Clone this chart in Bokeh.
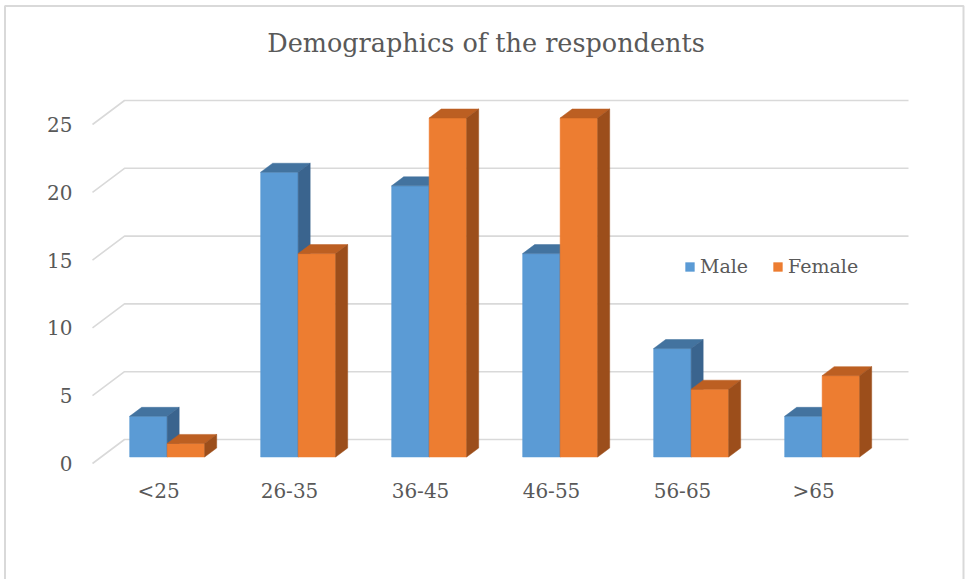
from bokeh.plotting import figure
from bokeh.models import Range1d, Legend, LegendItem
from bokeh.core.properties import value
from bokeh.embed import file_html
from bokeh.resources import INLINE

# ---- data ----
categories = ["<25", "26-35", "36-45", "46-55", "56-65", ">65"]
male = [3, 21, 20, 15, 8, 3]
female = [1, 15, 25, 25, 5, 6]
y_ticks = [0, 5, 10, 15, 20, 25]
title_text = "Demographics of the respondents"

# ---- style / projection constants ----
W, H = 965, 579
CAT_PX = 131.0          # pixels per category
X0_PX = 158.0           # pixel of first category label (floor front)
Y0_PX = 463.0           # pixel of value 0 on floor front
V_PX = 13.56            # pixels per unit
DX = 32.0 / CAT_PX      # full floor depth, x data units
DY = 24.0 / V_PX        # full floor depth, y data units
Z0, Z1 = 0.27, 0.646    # bar depth range (fraction of floor depth)
BW = 37.5 / CAT_PX      # bar width


def px_x(px):
    return (px - X0_PX) / CAT_PX


def px_y(py):
    return (Y0_PX - py) / V_PX


TXT = "#595959"
GRID = "#D9D9D9"
FONT = "DejaVu Serif"

p = figure(width=W, height=H, output_backend="svg", toolbar_location=None,
           x_range=Range1d(px_x(0), px_x(W)), y_range=Range1d(px_y(H), px_y(0)),
           min_border=0)
p.axis.visible = False
p.xgrid.visible = False
p.ygrid.visible = False
p.outline_line_color = None
p.background_fill_color = "white"
p.border_fill_color = "white"

# chart border (left, top, right; bottom is off-page)
p.line([px_x(4.5), px_x(4.5), px_x(963), px_x(963)],
       [px_y(H + 5), px_y(5.5), px_y(5.5), px_y(H + 5)],
       line_color=GRID, line_width=2)

n = len(categories)
# ---- gridlines (3D back wall + floor-side edge) ----
gx0 = px_x(92)
gx1 = px_x(908)
gxs, gys = [], []
for t in y_ticks:
    gxs.append([gx0, gx0 + DX, gx1])
    gys.append([t, t + DY, t + DY])
p.multi_line(gxs, gys, line_color=GRID, line_width=1.6)

# ---- bars ----
dz = Z1 - Z0
ddx, ddy = dz * DX, dz * DY


def bar_faces(vals, offset):
    fl, fr, fb, ft = [], [], [], []
    txs, tys, sxs, sys_ = [], [], [], []
    for i, v in enumerate(vals):
        xl = i + Z0 * DX + offset
        xr = xl + BW
        b = Z0 * DY
        t = v + Z0 * DY
        fl.append(xl); fr.append(xr); fb.append(b); ft.append(t)
        txs.append([xl, xr, xr + ddx, xl + ddx])
        tys.append([t, t, t + ddy, t + ddy])
        sxs.append([xr, xr, xr + ddx, xr + ddx])
        sys_.append([b, t, t + ddy, b + ddy])
    return fl, fr, fb, ft, txs, tys, sxs, sys_


series = [
    ("Male", male, -BW, "#5B9BD5", "#43739F", "#3A648E"),
    ("Female", female, 0.0, "#ED7D31", "#BC5F22", "#9C4E1B"),
]
legend_items = []
for name, vals, off, cf, ct, cs in series:
    fl, fr, fb, ft, txs, tys, sxs, sys_ = bar_faces(vals, off)
    r = p.quad(left=fl, right=fr, bottom=fb, top=ft, fill_color=cf, line_color=cf, line_width=0.5)
    p.patches(txs, tys, fill_color=ct, line_color=ct, line_width=0.5)
    p.patches(sxs, sys_, fill_color=cs, line_color=cs, line_width=0.5)
    legend_items.append(LegendItem(label=name, renderers=[r]))

# ---- tick labels ----
p.text(x=[px_x(72)] * len(y_ticks), y=y_ticks, text=[str(t) for t in y_ticks],
       text_align="right", text_baseline="middle", text_color=TXT,
       text_font=value(FONT), text_font_size="20px")

p.text(x=list(range(n)), y=[px_y(490)] * n, text=categories,
       text_align="center", text_baseline="middle", text_color=TXT,
       text_font=value(FONT), text_font_size="20px")

# ---- title ----
p.text(x=[(n - 1) / 2], y=[px_y(42)], text=[title_text],
       text_align="center", text_baseline="middle", text_color=TXT,
       text_font=value(FONT), text_font_size="25.5px")

# ---- legend ----
legend = Legend(items=legend_items, orientation="horizontal",
                location=(684, 302), margin=0, padding=0,
                glyph_width=11, glyph_height=11, label_standoff=5, spacing=24,
                label_text_font=FONT, label_text_font_size="19px",
                label_text_color=TXT, label_height=22,
                background_fill_alpha=0, border_line_alpha=0)
p.add_layout(legend)

open("out.html", "w").write(file_html(p, INLINE))
